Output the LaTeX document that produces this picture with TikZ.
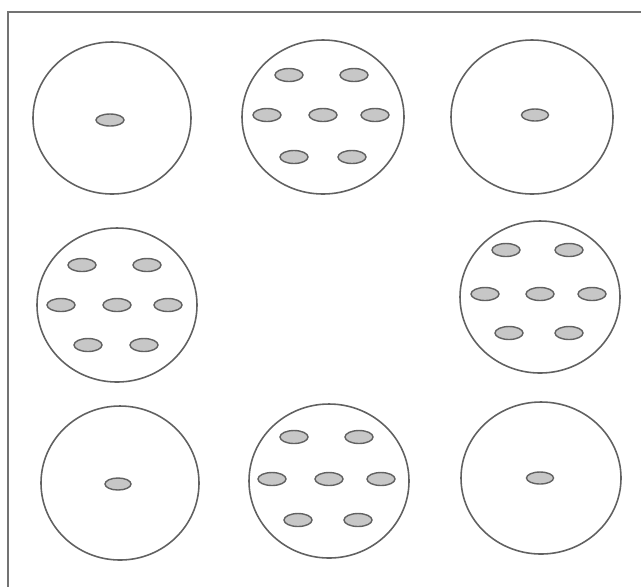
\documentclass[tikz,border=0pt]{standalone}
\usetikzlibrary{calc}
\tikzset{
    celula/.style={draw=black!62, line width=0.9pt},
    grano/.style={draw=black!62, fill=black!22, line width=0.8pt},
    marco/.style={draw=black!55, line width=1.1pt},
}

\begin{document}
\begin{tikzpicture}[x=0.02cm, y=-0.02cm]
\useasboundingbox (0,0) rectangle (641,586);

% marco (solo se ven los bordes superior e izquierdo)
\draw[marco] (8,600) -- (8,12) -- (660,12);

% Fila 1
\begin{scope}[shift={(112,118)}]
\draw[celula] (0,0) ellipse (79 and 76);
\fill[grano] (-2,2) ellipse (14 and 6);
\end{scope}

\begin{scope}[shift={(323,117)}]
\draw[celula] (0,0) ellipse (81 and 77);
\foreach \p in {(-34,-42),(31,-42),(-56,-2),(0,-2),(52,-2),(-29,40),(29,40)} {
    \fill[grano] \p ellipse (14 and 6.5);
}
\end{scope}

\begin{scope}[shift={(532,117)}]
\draw[celula] (0,0) ellipse (81 and 77);
\fill[grano] (3,-2) ellipse (13.5 and 6);
\end{scope}

% Fila 2
\begin{scope}[shift={(117,305)}]
\draw[celula] (0,0) ellipse (80 and 77);
\foreach \p in {(-35,-40),(30,-40),(-56,0),(0,0),(51,0),(-29,40),(27,40)} {
    \fill[grano] \p ellipse (14 and 6.5);
}
\end{scope}

\begin{scope}[shift={(540,297)}]
\draw[celula] (0,0) ellipse (80 and 76);
\foreach \p in {(-34,-47),(29,-47),(-55,-3),(0,-3),(52,-3),(-31,36),(29,36)} {
    \fill[grano] \p ellipse (14 and 6.5);
}
\end{scope}

% Fila 3
\begin{scope}[shift={(120,483)}]
\draw[celula] (0,0) ellipse (79 and 77);
\fill[grano] (-2,1) ellipse (13 and 6);
\end{scope}

\begin{scope}[shift={(329,481)}]
\draw[celula] (0,0) ellipse (80 and 77);
\foreach \p in {(-35,-44),(30,-44),(-57,-2),(0,-2),(52,-2),(-31,39),(29,39)} {
    \fill[grano] \p ellipse (14 and 6.5);
}
\end{scope}

\begin{scope}[shift={(541,478)}]
\draw[celula] (0,0) ellipse (80 and 76);
\fill[grano] (-1,0) ellipse (13.5 and 6);
\end{scope}

\end{tikzpicture}
\end{document}
